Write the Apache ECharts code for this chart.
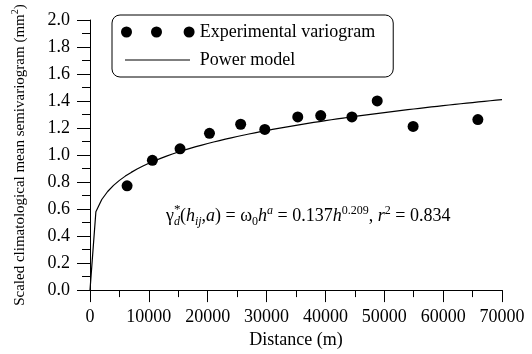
<!DOCTYPE html>
<html>
<head>
<meta charset="utf-8">
<script src="https://cdn.jsdelivr.net/npm/echarts@6/dist/echarts.min.js"></script>
<style>
  html, body { margin: 0; padding: 0; background: #fff; }
  #chart { width: 532px; height: 354px; }
</style>
</head>
<body>
<div id="chart"></div>
<script>
// Experimental semivariogram: lag distance (m) and scaled mean semivariance (mm²)
const lagDistance = [6300, 10600, 15300, 20300, 25600, 29700, 35300, 39200, 44500, 48800, 54900, 65900];
const semivariance = [0.772, 0.961, 1.046, 1.161, 1.228, 1.190, 1.282, 1.292, 1.282, 1.401, 1.212, 1.263];

// Fitted power model  gamma(h) = omega0 * h^a
const omega0 = 0.137;
const exponentA = 0.209;
const modelDistance = [];
for (let h = 0; h <= 70000; h += 1000) modelDistance.push(h);

const xTicks = { min: 0, max: 70000, interval: 10000 };
const yTicks = { min: 0, max: 2.0, interval: 0.2 };

const serif = 'Liberation Serif';
const scatterData = lagDistance.map((d, i) => [d, semivariance[i]]);
const modelData = modelDistance.map(h => [h, omega0 * Math.pow(h, exponentA)]);

const dotsIcon = 'path://M0,5.5a5.5,5.5 0 1,0 11,0a5.5,5.5 0 1,0 -11,0z' +
  'M30,5.5a5.5,5.5 0 1,0 11,0a5.5,5.5 0 1,0 -11,0z' +
  'M62.6,5.5a5.5,5.5 0 1,0 11,0a5.5,5.5 0 1,0 -11,0z';
const lineIcon = 'path://M0,0h0.02v0.02h-0.02z M4,5h65v1.1h-65z M73.58,10.98h0.02v0.02h-0.02z';

const chart = echarts.init(document.getElementById('chart'), null, { renderer: 'canvas' });
chart.setOption({
  animation: false,
  backgroundColor: '#fff',
  grid: { left: 90, right: 30, top: 20, bottom: 60 },
  legend: {
    orient: 'vertical',
    left: 112,
    top: 15,
    padding: [8, 18, 8, 9],
    itemGap: 10,
    itemWidth: 74,
    itemHeight: 11,
    borderColor: '#000',
    borderWidth: 1,
    borderRadius: 8,
    textStyle: { fontFamily: serif, fontSize: 18, color: '#000' },
    data: [
      { name: 'Experimental variogram', icon: dotsIcon, itemStyle: { color: '#000', opacity: 1 } },
      { name: 'Power model', icon: lineIcon, itemStyle: { color: '#000', opacity: 1 } }
    ]
  },
  xAxis: {
    type: 'value',
    min: xTicks.min, max: xTicks.max, interval: xTicks.interval,
    name: 'Distance (m)',
    nameLocation: 'middle',
    nameGap: 40,
    nameTextStyle: { fontFamily: serif, fontSize: 18, color: '#000' },
    axisLine: { show: true, onZero: false, lineStyle: { color: '#000', width: 1 } },
    axisTick: { show: true, length: 12, lineStyle: { color: '#000' } },
    minorTick: { show: true, splitNumber: 2, length: 7, lineStyle: { color: '#000' } },
    splitLine: { show: false },
    axisLabel: {
      margin: 18, fontFamily: serif, fontSize: 18, color: '#000',
      formatter: v => String(v)
    }
  },
  yAxis: {
    type: 'value',
    min: yTicks.min, max: yTicks.max, interval: yTicks.interval,
    name: 'Scaled climatological mean semivariogram (mm{sup|2})',
    nameLocation: 'middle',
    nameGap: 60,
    nameTextStyle: {
      fontFamily: serif, fontSize: 15, color: '#000', lineHeight: 20,
      rich: { sup: { fontFamily: serif, fontSize: 10, lineHeight: 11, verticalAlign: 'top', color: '#000' } }
    },
    axisLine: { show: true, onZero: false, lineStyle: { color: '#000', width: 1 } },
    axisTick: { show: true, length: 13, lineStyle: { color: '#000' } },
    minorTick: { show: true, splitNumber: 2, length: 8, lineStyle: { color: '#000' } },
    splitLine: { show: false },
    axisLabel: {
      margin: 20, fontFamily: serif, fontSize: 18, color: '#000',
      formatter: v => v.toFixed(1)
    }
  },
  series: [
    {
      name: 'Experimental variogram',
      type: 'scatter',
      data: scatterData,
      symbol: 'circle',
      symbolSize: 11,
      itemStyle: { color: '#000', opacity: 1 },
      z: 3
    },
    {
      name: 'Power model',
      type: 'line',
      data: modelData,
      showSymbol: false,
      smooth: false,
      lineStyle: { color: '#000', width: 1.2 },
      itemStyle: { color: '#000' },
      z: 2
    }
  ],
  graphic: [
    {
      type: 'text',
      left: 166,
      top: 205,
      style: {
        text: '{n|γ}{sub|d}{n|(}{i|h}{sub|ij}{n|,}{i|a}{n|) = ω}{subn|0}{i|h}{sup|a}{n| = 0.137}{i|h}{supn|0.209}{n|, }{i|r}{supn|2}{n| = 0.834}',
        rich: {
          n: { fontFamily: serif, fontSize: 18, lineHeight: 23, color: '#000' },
          i: { fontFamily: serif, fontSize: 18, fontStyle: 'italic', lineHeight: 23, color: '#000' },
          sub: { fontFamily: serif, fontSize: 12, fontStyle: 'italic', lineHeight: 13, verticalAlign: 'bottom', color: '#000' },
          subn: { fontFamily: serif, fontSize: 12, lineHeight: 13, verticalAlign: 'bottom', color: '#000' },
          sup: { fontFamily: serif, fontSize: 12, fontStyle: 'italic', lineHeight: 13, verticalAlign: 'top', color: '#000' },
          supn: { fontFamily: serif, fontSize: 12, lineHeight: 13, verticalAlign: 'top', color: '#000' }
        }
      }
    },
    {
      type: 'text',
      left: 174,
      top: 203,
      style: { text: '*', fontFamily: serif, fontSize: 13, fill: '#000' }
    }
  ]
});
</script>
</body>
</html>
